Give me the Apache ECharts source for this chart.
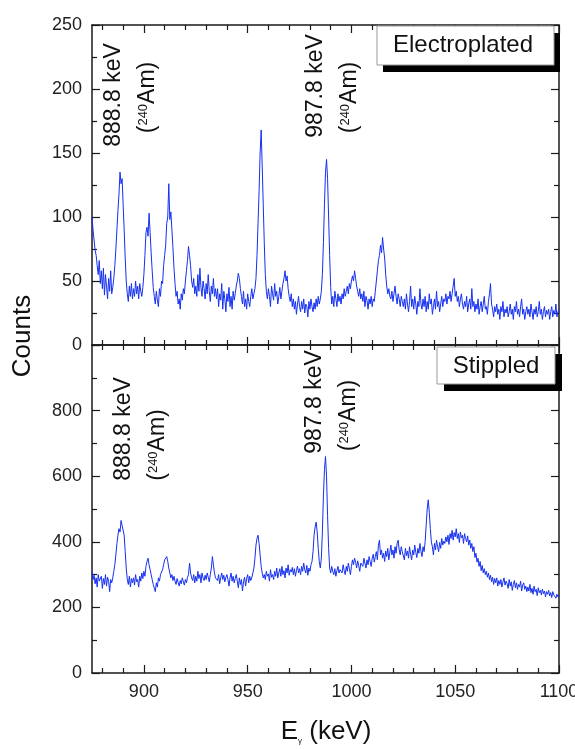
<!DOCTYPE html>
<html><head><meta charset="utf-8">
<script src="https://cdn.jsdelivr.net/npm/echarts@6/dist/echarts.min.js"></script>
<style>html,body{margin:0;padding:0;background:#fff}#c{width:575px;height:749px}</style>
</head><body><div id="c"></div>
<script>
// Channel calibration: energy of channel i = energyStart + i*energyStep (keV)
const energyStart = 875;
const energyStep = 0.5;

// Electroplated spectrum counts (875 - 1100 keV, 0.5 keV per channel)
const electroplatedCounts = [
100,90,82,74,70,62,55,66,48,58,44,60,39,55,46,36,52,42,58,40,
45,52,62,75,90,105,118,135,126,130,110,90,68,50,40,34,46,38,48,36,
44,38,50,40,46,36,48,42,38,45,55,70,88,92,85,103,88,72,58,45,
38,32,42,35,30,44,38,50,48,62,70,78,95,100,126,98,104,90,76,60,
48,38,42,32,36,28,40,35,44,40,50,58,66,77,70,62,50,45,52,40,
46,38,55,42,60,45,38,50,44,36,48,40,55,42,34,46,40,52,38,44,
36,44,30,40,35,48,28,42,36,26,40,34,45,30,38,28,42,35,40,46,
50,56,52,44,38,32,42,30,36,28,40,34,30,38,44,36,40,44,52,70,
95,120,150,168,140,110,80,55,42,36,44,38,30,46,40,35,48,38,42,32,
38,45,36,42,48,52,58,50,54,44,38,34,40,30,36,28,34,24,32,38,
30,26,34,28,36,25,32,30,22,34,28,36,30,26,33,28,36,30,38,32,
36,42,55,80,110,135,145,130,100,70,45,32,38,30,42,36,30,40,34,38,
32,40,36,44,38,42,46,40,48,44,50,54,50,58,52,46,42,38,44,36,
40,34,42,30,38,35,28,36,32,38,30,36,34,42,50,58,66,70,78,72,
84,75,68,55,46,40,44,38,36,42,34,40,46,38,32,40,36,30,38,34,
30,36,28,40,32,26,34,46,30,36,28,38,32,24,34,30,44,32,28,36,
30,38,26,34,28,40,32,36,24,30,36,28,42,30,34,26,32,38,30,36,
34,40,32,38,36,42,34,40,46,52,38,42,34,38,30,36,40,32,28,34,
30,38,26,32,36,28,44,30,34,26,32,28,36,24,30,34,26,32,38,28,
30,24,34,40,48,32,28,22,30,26,32,24,28,20,30,26,34,22,28,25,
30,22,26,32,24,28,20,30,26,34,24,28,22,30,36,24,28,20,26,30,
24,28,22,32,26,20,28,24,30,22,26,34,24,28,20,26,30,22,27,24,
28,20,26,30,22,27,24,32,22,26,28
];

// Stippled spectrum counts (875 - 1100 keV, 0.5 keV per channel)
const stippledCounts = [
310,285,298,272,290,262,300,280,276,295,258,288,270,300,265,292,280,248,285,275,
290,310,330,360,395,420,440,430,465,450,455,420,370,320,285,270,295,262,288,275,
290,268,300,278,285,262,295,280,305,288,310,295,325,340,350,330,315,300,285,270,
265,248,275,262,290,280,300,295,315,330,345,350,355,340,320,305,290,300,282,295,
280,270,288,276,265,282,272,290,278,268,285,275,292,300,335,305,290,282,300,275,
295,280,310,288,300,275,305,290,282,298,285,305,292,278,300,320,355,330,305,290,
295,282,300,272,290,305,285,298,278,292,300,285,265,290,305,280,295,275,288,300,
280,260,290,270,285,250,278,292,265,288,300,275,295,282,290,305,320,350,390,410,
420,395,360,325,305,290,300,285,310,295,302,280,315,292,300,285,310,295,320,290,
305,318,295,325,300,312,290,320,305,330,298,315,308,322,300,318,295,312,326,305,
318,300,325,310,335,315,305,328,298,320,310,330,340,370,420,445,460,430,380,340,
320,350,430,540,620,660,600,480,380,320,305,325,310,300,318,295,312,325,305,315,
320,305,330,312,300,325,310,335,318,300,325,345,330,350,338,320,342,328,310,335,
340,325,350,335,320,345,330,355,340,325,350,362,338,355,370,345,390,405,360,375,
350,365,340,372,355,380,345,368,390,360,375,350,385,365,395,405,375,360,385,370,
365,345,380,358,372,350,385,362,345,375,360,390,368,352,380,365,395,370,355,385,
370,400,450,500,528,490,440,400,385,360,395,375,405,385,370,398,380,410,390,402,
395,415,400,420,392,425,410,435,405,428,415,440,410,425,398,430,412,420,395,425,
410,400,418,390,405,380,395,370,385,352,365,338,350,325,340,312,328,305,318,300,
310,292,305,285,298,278,292,270,288,275,290,265,282,270,285,262,278,290,268,280,
272,258,285,265,278,252,270,282,260,275,255,270,262,280,250,268,275,255,265,248,
262,250,270,245,258,240,265,248,255,236,260,245,252,238,256,242,250,232,248,240,
252,235,245,230,248,238,244,228,240,232,238
];

const xMin = 875, xMax = 1100;
const xMajorTicks = [900, 950, 1000, 1050, 1100];
const xMinorTicks = [880, 890, 910, 920, 930, 940, 960, 970, 980, 990, 1010, 1020, 1030, 1040, 1060, 1070, 1080, 1090];
const topYMax = 250, topYInterval = 50;
const bottomYMax = 1000, bottomYInterval = 200;
const panelNames = ['Electroplated', 'Stippled'];
const peakLabels = ['888.8 keV', '987.8 keV'];
const sourceLabel = '({s|240}Am)';
const xTitle = 'E{g|γ} (keV)';
const yTitle = 'Counts';

const FONT = 'Liberation Sans, Arial, Helvetica, sans-serif';
const INK = '#1a1a1a';
const lineCol = '#1530f0';

function toPairs(arr) { return arr.map((c, i) => [energyStart + i * energyStep, c]); }

function xAx(grid, pos, ticks, len, showLine, showLabel) {
  return {
    type: 'value', gridIndex: grid, position: pos, min: xMin, max: xMax,
    axisLine: { show: showLine, onZero: false, lineStyle: { color: INK, width: 1.5 } },
    axisTick: { show: true, inside: true, length: len, customValues: ticks, lineStyle: { color: INK, width: 1.2 } },
    axisLabel: showLabel ? { show: true, customValues: ticks, fontSize: 18, fontFamily: FONT, color: '#222', margin: 10,
      formatter: v => String(v) } : { show: false },
    splitLine: { show: false }
  };
}
function yAx(grid, pos, max, interval, showLabel) {
  return {
    type: 'value', gridIndex: grid, position: pos, min: 0, max: max, interval: interval,
    axisLine: { show: true, onZero: false, lineStyle: { color: INK, width: 1.5 } },
    axisTick: { show: true, inside: true, length: 8, lineStyle: { color: INK, width: 1.2 } },
    minorTick: { show: true, splitNumber: 2, length: 5, lineStyle: { color: INK, width: 1.2 } },
    axisLabel: showLabel ? { show: true, fontSize: 18, fontFamily: FONT, color: '#222', margin: 10,
      formatter: v => (v === bottomYMax ? '' : String(v)) } : { show: false },
    splitLine: { show: false }
  };
}

function vText(x, y, text, size, rich) {
  return { type: 'text', x: x, y: y, rotation: Math.PI / 2, z: 50,
    style: { text: text, fontSize: size, fontFamily: FONT, fill: '#111',
      align: 'center', verticalAlign: 'middle', textAlign: 'center', textVerticalAlign: 'middle',
      rich: rich } };
}
const supRich = { s: { fontSize: 13, fontFamily: FONT, fill: '#111', verticalAlign: 'top' } };

function legendBox(x, y, w, h, dx, dy, label, tx, ty) {
  return [
    { type: 'rect', z: 40, shape: { x: x + dx, y: y + dy, width: w, height: h }, style: { fill: '#000' } },
    { type: 'rect', z: 41, shape: { x: x, y: y, width: w, height: h }, style: { fill: '#fff', stroke: '#999', lineWidth: 1 } },
    { type: 'text', z: 42, x: tx, y: ty, style: { text: label, fontSize: 24, fontFamily: FONT, fill: '#111',
      align: 'center', verticalAlign: 'middle', textAlign: 'center', textVerticalAlign: 'middle' } }
  ];
}

const chart = echarts.init(document.getElementById('c'), null, { renderer: 'canvas' });
chart.setOption({
  animation: false,
  backgroundColor: '#fff',
  grid: [
    { left: 92, right: 16, top: 25, height: 320, containLabel: false, outerBoundsMode: 'none' },
    { left: 92, right: 16, top: 345, height: 328, containLabel: false, outerBoundsMode: 'none' }
  ],
  xAxis: [
    xAx(0, 'bottom', xMajorTicks, 8, true, false),
    xAx(0, 'bottom', xMinorTicks, 5, false, false),
    xAx(0, 'top', xMajorTicks, 8, true, false),
    xAx(0, 'top', xMinorTicks, 5, false, false),
    xAx(1, 'bottom', xMajorTicks, 8, true, true),
    xAx(1, 'bottom', xMinorTicks, 5, false, false),
    xAx(1, 'top', xMajorTicks, 8, true, false),
    xAx(1, 'top', xMinorTicks, 5, false, false)
  ],
  yAxis: [
    yAx(0, 'left', topYMax, topYInterval, true),
    yAx(0, 'right', topYMax, topYInterval, false),
    yAx(1, 'left', bottomYMax, bottomYInterval, true),
    yAx(1, 'right', bottomYMax, bottomYInterval, false)
  ],
  series: [
    { name: panelNames[0], type: 'line', xAxisIndex: 0, yAxisIndex: 0, data: toPairs(electroplatedCounts),
      symbol: 'none', showSymbol: false, lineStyle: { color: lineCol, width: 1 }, silent: true },
    { name: panelNames[1], type: 'line', xAxisIndex: 4, yAxisIndex: 2, data: toPairs(stippledCounts),
      symbol: 'none', showSymbol: false, lineStyle: { color: lineCol, width: 1 }, silent: true }
  ],
  graphic: [
    vText(23, 336, yTitle, 26),
    { type: 'text', x: 326, y: 732, z: 50, style: { text: xTitle, fontSize: 26, fontFamily: FONT, fill: '#111',
      align: 'center', verticalAlign: 'middle', textAlign: 'center', textVerticalAlign: 'middle',
      rich: { g: { fontSize: 8, fontFamily: FONT, fill: '#111', verticalAlign: 'bottom' } } } },
    vText(113.5, 95, peakLabels[0], 23),
    vText(148, 97.5, sourceLabel, 23, supRich),
    vText(316, 86, peakLabels[1], 23),
    vText(350, 97.5, sourceLabel, 23, supRich),
    vText(124, 429, peakLabels[0], 23),
    vText(158, 445, sourceLabel, 23, supRich),
    vText(315, 402, peakLabels[1], 23),
    vText(349, 415.5, sourceLabel, 23, supRich),
    ...legendBox(377, 26, 177, 39, 6, 7, panelNames[0], 463, 45),
    ...legendBox(437, 347, 118, 37, 7, 7, panelNames[1], 496, 366)
  ]
});
</script>
</body></html>
